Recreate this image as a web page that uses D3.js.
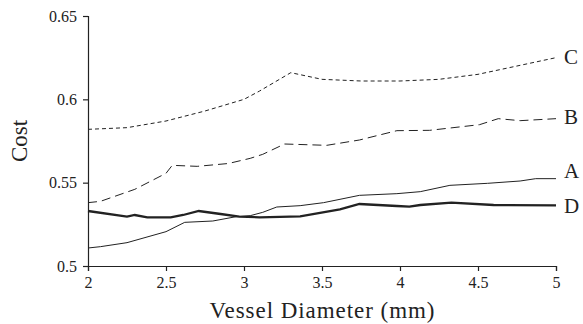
<!DOCTYPE html>
<html>
<head>
<meta charset="utf-8">
<script src="https://cdn.jsdelivr.net/npm/d3@7"></script>
<style>
  body { margin: 0; background: #fff; }
  text { font-family: "Liberation Serif", "Times New Roman", serif; fill: #222; }
</style>
</head>
<body>
<div id="chart"></div>
<script>
let xC = [2, 2.25, 2.5, 2.75, 3.0, 3.1, 3.3, 3.5, 3.75, 4.0, 4.25, 4.5, 4.75, 5];
let yC = [0.582, 0.583, 0.587, 0.593, 0.600, 0.605, 0.616, 0.612, 0.611, 0.611, 0.612, 0.615, 0.620, 0.625];

let xB = [2, 2.08, 2.3, 2.5, 2.54, 2.7, 2.9, 3.04, 3.12, 3.26, 3.53, 3.74, 3.98, 4.19, 4.51, 4.63, 4.77, 5];
let yB = [0.538, 0.5388, 0.546, 0.5556, 0.5604, 0.5598, 0.5615, 0.5646, 0.567, 0.5732, 0.5724, 0.5756, 0.5812, 0.5814, 0.5848, 0.5884, 0.5872, 0.5884];

let xA = [2, 2.08, 2.25, 2.5, 2.62, 2.8, 2.95, 3.04, 3.12, 3.21, 3.36, 3.51, 3.74, 3.98, 4.13, 4.32, 4.56, 4.77, 4.87, 5];
let yA = [0.5108, 0.5116, 0.514, 0.5206, 0.5262, 0.527, 0.5296, 0.5302, 0.5322, 0.5354, 0.5362, 0.538, 0.5424, 0.5434, 0.5446, 0.5484, 0.5496, 0.551, 0.5524, 0.5524];

let xD = [2, 2.25, 2.3, 2.38, 2.53, 2.61, 2.71, 2.85, 2.97, 3.1, 3.36, 3.615, 3.74, 3.98, 4.06, 4.13, 4.33, 4.6, 5];
let yD = [0.533, 0.5296, 0.5306, 0.5292, 0.5292, 0.5306, 0.533, 0.5312, 0.5296, 0.5292, 0.5298, 0.534, 0.5372, 0.536, 0.5356, 0.5366, 0.538, 0.5366, 0.5364];

let xTicks = [2, 2.5, 3, 3.5, 4, 4.5, 5];
let yTicks = [0.5, 0.55, 0.6, 0.65];

let series = [
  {name: "C", x: xC, y: yC, width: 1, dash: "4,3"},
  {name: "B", x: xB, y: yB, width: 1, dash: "9,5"},
  {name: "A", x: xA, y: yA, width: 1, dash: null},
  {name: "D", x: xD, y: yD, width: 2.3, dash: null}
];
let labelOffset = {C: 2, B: 1, A: -5, D: 3};

let margin = {top: 16, left: 88, bottom: 58, right: 27};
let width = 583 - margin.left - margin.right;
let height = 324 - margin.top - margin.bottom;

let svg = d3.select("#chart")
            .append("svg")
            .attr("width", 583)
            .attr("height", 324);

let g = svg.append("g").attr("transform", "translate(" + margin.left + "," + margin.top + ")");

let x = d3.scaleLinear().domain([2, 5]).range([0, width]);
let y = d3.scaleLinear().domain([0.5, 0.65]).range([height, 0]);

let xAxis = g.append("g")
  .attr("transform", "translate(0," + height + ")")
  .call(d3.axisBottom(x).tickValues(xTicks).tickSize(5).tickPadding(6).tickFormat(d3.format("")));
let yAxis = g.append("g")
  .call(d3.axisLeft(y).tickValues(yTicks).tickSize(5).tickPadding(6).tickFormat(d3.format("")));

[xAxis, yAxis].forEach(function(a){
  a.select(".domain").attr("stroke", "#222").attr("stroke-width", 1.2);
  a.selectAll(".tick line").attr("stroke", "#222").attr("stroke-width", 1.2);
  a.selectAll("text").style("font-family", "'Liberation Serif', serif").style("font-size", "16px").attr("fill", "#222");
});

let line = d3.line()
  .x(function(d){ return x(d[0]); })
  .y(function(d){ return y(d[1]); });

series.forEach(function(s){
  let pts = s.x.map(function(v, i){ return [v, s.y[i]]; });
  g.append("path")
    .datum(pts)
    .attr("d", line)
    .attr("fill", "none")
    .attr("stroke", "#222")
    .attr("stroke-width", s.width)
    .attr("stroke-dasharray", s.dash);
  g.append("text")
    .attr("x", x(5) + 8)
    .attr("y", y(s.y[s.y.length - 1]) + labelOffset[s.name])
    .attr("dominant-baseline", "middle")
    .style("font-size", "21px")
    .text(s.name);
});

svg.append("text")
  .attr("transform", "translate(27," + (margin.top + height / 2) + ") rotate(-90)")
  .attr("text-anchor", "middle")
  .style("font-size", "23px")
  .text("Cost");

svg.append("text")
  .attr("x", margin.left + width / 2)
  .attr("y", 318)
  .attr("text-anchor", "middle")
  .style("font-size", "23px")
  .attr("textLength", 225)
  .text("Vessel Diameter (mm)");
</script>
</body>
</html>
